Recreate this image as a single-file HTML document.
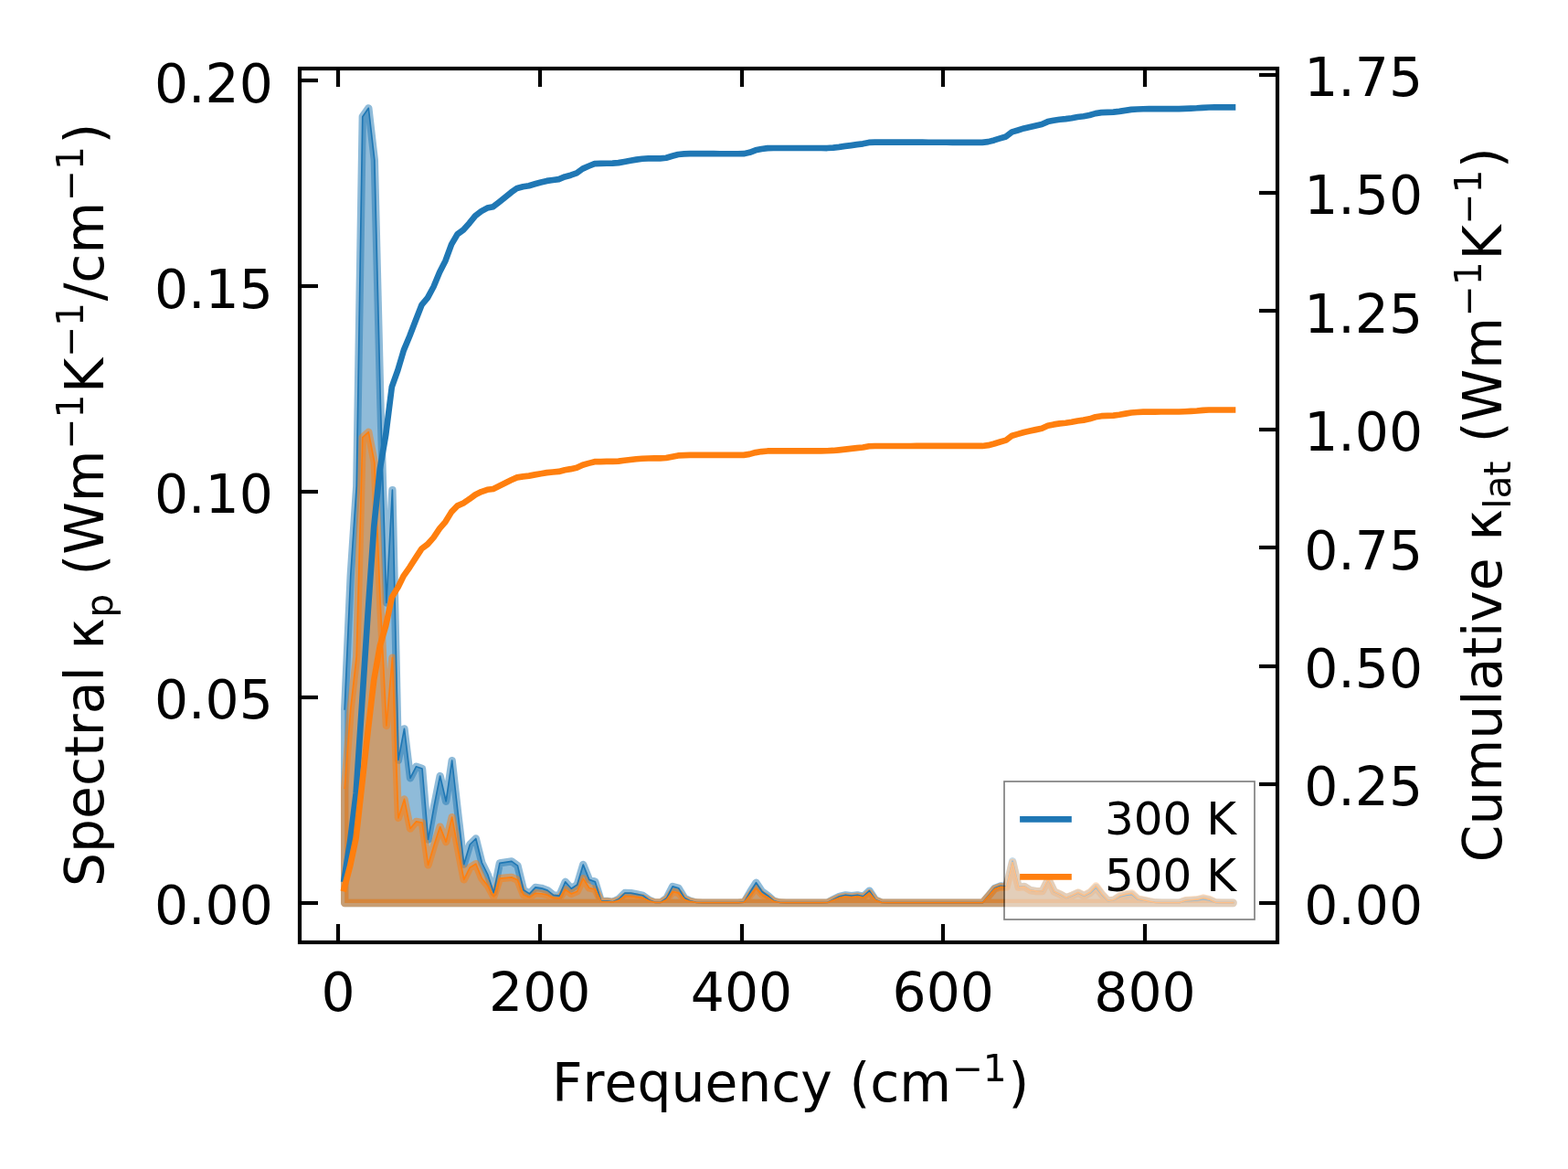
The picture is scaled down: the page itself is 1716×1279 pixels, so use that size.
<!DOCTYPE html>
<html lang="en">
<head>
<meta charset="utf-8">
<title>Spectral and cumulative lattice thermal conductivity</title>
<style>
html,body{margin:0;padding:0;background:#fff}
body{width:1716px;height:1279px;overflow:hidden}
svg{display:block}
text{white-space:pre;font-kerning:none;font-variant-ligatures:none}
</style>
</head>
<body>
<svg xmlns="http://www.w3.org/2000/svg" width="1716" height="1279" viewBox="0 0 1716 1279" font-family="'DejaVu Sans','Liberation Sans',sans-serif" font-size="58.33" fill="#000">
<rect width="1716" height="1279" fill="#fff"/>
<path d="M377.2 988 L377.2 776 L383.73 630 L390.25 532 L396.78 127.7 L403.3 118.3 L409.83 175 L416.36 440 L422.88 659.5 L429.41 536.2 L435.93 831.6 L442.46 797.3 L448.99 851.3 L455.51 838.7 L462.04 841 L468.56 918.5 L475.09 882 L481.62 849 L488.14 876.7 L494.67 832.1 L501.19 890 L507.72 945.7 L514.25 924 L520.77 917.5 L527.3 943.8 L533.82 957 L540.35 976.7 L546.88 944.3 L553.4 943.3 L559.93 942.4 L566.45 947.1 L572.98 973.8 L579.51 977.9 L586.03 970.85 L592.56 971.8 L599.08 974.1 L605.61 979.3 L612.14 980.2 L618.66 964.75 L625.19 972.3 L631.71 968 L638.24 946 L644.77 962.4 L651.29 964.75 L657.82 985.9 L664.34 985.9 L670.87 986.8 L677.4 983.5 L683.92 977 L690.45 977.1 L696.97 978.4 L703.5 979.8 L710.03 984.5 L716.55 987.3 L723.08 987.3 L729.6 982.6 L736.13 969.9 L742.66 971.8 L749.18 982.6 L755.71 985.9 L762.23 987.5 L768.76 987.6 L775.29 987.6 L781.81 987.6 L788.34 987.6 L794.86 987.6 L801.39 987.6 L807.92 987.6 L814.44 987.1 L820.97 976 L827.49 965.7 L834.02 975.5 L840.55 980.2 L847.07 985.9 L853.6 987.5 L860.12 987.6 L866.65 987.6 L873.18 987.6 L879.7 987.6 L886.23 987.6 L892.75 987.6 L899.28 987.6 L905.81 987.5 L912.33 984 L918.86 980.7 L925.38 979.3 L931.91 980.2 L938.44 979.3 L944.96 980.7 L951.49 974.6 L958.01 984.5 L964.54 987.3 L971.07 987.6 L977.59 987.6 L984.12 987.6 L990.64 987.6 L997.17 987.6 L1003.7 987.6 L1010.22 987.6 L1016.75 987.6 L1023.27 987.6 L1029.8 987.6 L1036.33 987.6 L1042.85 987.6 L1049.38 987.6 L1055.9 987.6 L1062.43 987.6 L1068.96 987.6 L1075.48 987.6 L1082.01 979.8 L1088.53 971.8 L1095.06 969.4 L1101.59 969.9 L1108.11 942.2 L1114.64 970.4 L1121.16 969.9 L1127.69 974.1 L1134.22 975.1 L1140.74 975.1 L1147.27 962 L1153.79 975.8 L1160.32 978.7 L1166.85 982.4 L1173.37 979.9 L1179.9 977.1 L1186.42 980.3 L1192.95 977.1 L1199.48 970.9 L1206 979.1 L1212.53 985.7 L1219.05 984.9 L1225.58 981 L1232.11 979.5 L1238.63 978.7 L1245.16 984 L1251.68 985.3 L1258.21 986.5 L1264.74 987.5 L1271.26 987.6 L1277.79 987.6 L1284.31 987.6 L1290.84 987.6 L1297.37 985.7 L1303.89 985.3 L1310.42 984.9 L1316.94 983.6 L1323.47 984.9 L1330 987.3 L1336.52 987.6 L1343.05 987.6 L1349.57 987.6 L1349.57 988 Z" fill="#1f77b4" fill-opacity="0.5" stroke="#1f77b4" stroke-opacity="0.5" stroke-width="8.3333" stroke-linejoin="round"/>
<path d="M377.2 988 L377.2 862.41 L383.73 776 L390.25 717.96 L396.78 478.52 L403.3 472.75 L409.83 506.1 L416.36 662.94 L422.88 794 L429.41 719.6 L435.93 894.91 L442.46 874.42 L448.99 906.46 L455.51 898.86 L462.04 900.13 L468.56 946.32 L475.09 924.43 L481.62 904.57 L488.14 921.07 L494.67 894.16 L501.19 928.85 L507.72 962.34 L514.25 949.18 L520.77 945.17 L527.3 961.04 L533.82 969 L540.35 980.96 L546.88 961.17 L553.4 960.5 L559.93 959.88 L566.45 962.7 L572.98 979.09 L579.51 981.6 L586.03 977.22 L592.56 977.78 L599.08 979.18 L605.61 982.41 L612.14 982.96 L618.66 973.23 L625.19 977.94 L631.71 975.19 L638.24 961.17 L644.77 971.53 L651.29 972.98 L657.82 986.51 L664.34 986.5 L670.87 987.08 L677.4 984.94 L683.92 980.69 L690.45 980.73 L696.97 981.55 L703.5 982.45 L710.03 985.55 L716.55 987.4 L723.08 987.4 L729.6 984.24 L736.13 975.66 L742.66 976.89 L749.18 984.2 L755.71 986.44 L762.23 987.53 L768.76 987.6 L775.29 987.6 L781.81 987.6 L788.34 987.6 L794.86 987.6 L801.39 987.6 L807.92 987.6 L814.44 987.24 L820.97 979.25 L827.49 971.75 L834.02 978.79 L840.55 982.18 L847.07 986.35 L853.6 987.53 L860.12 987.6 L866.65 987.6 L873.18 987.6 L879.7 987.6 L886.23 987.6 L892.75 987.6 L899.28 987.6 L905.81 987.52 L912.33 984.78 L918.86 982.17 L925.38 981.02 L931.91 981.7 L938.44 980.94 L944.96 982.03 L951.49 977.03 L958.01 985.06 L964.54 987.35 L971.07 987.6 L977.59 987.6 L984.12 987.6 L990.64 987.6 L997.17 987.6 L1003.7 987.6 L1010.22 987.6 L1016.75 987.6 L1023.27 987.6 L1029.8 987.6 L1036.33 987.6 L1042.85 987.6 L1049.38 987.6 L1055.9 987.6 L1062.43 987.6 L1068.96 987.6 L1075.48 987.6 L1082.01 980.27 L1088.53 972.63 L1095.06 970.23 L1101.59 970.57 L1108.11 943.57 L1114.64 970.79 L1121.16 970.16 L1127.69 974.19 L1134.22 975.08 L1140.74 974.98 L1147.27 961.55 L1153.79 975.49 L1160.32 978.39 L1166.85 982.18 L1173.37 979.5 L1179.9 976.46 L1186.42 979.79 L1192.95 976.27 L1199.48 969.43 L1206 978.27 L1212.53 985.5 L1219.05 984.59 L1225.58 980.17 L1232.11 978.4 L1238.63 977.4 L1245.16 983.44 L1251.68 984.92 L1258.21 986.31 L1264.74 987.48 L1271.26 987.6 L1277.79 987.6 L1284.31 987.6 L1290.84 987.6 L1297.37 985.24 L1303.89 984.72 L1310.42 984.19 L1316.94 982.5 L1323.47 984.12 L1330 987.21 L1336.52 987.6 L1343.05 987.6 L1349.57 987.6 L1349.57 988 Z" fill="#ff7f0e" fill-opacity="0.5" stroke="#ff7f0e" stroke-opacity="0.5" stroke-width="8.3333" stroke-linejoin="round"/>
<g stroke="#000" stroke-width="4.17">
<path d="M370 1031 v-20 M370 75 v20"/>
<path d="M591 1031 v-20 M591 75 v20"/>
<path d="M812 1031 v-20 M812 75 v20"/>
<path d="M1032 1031 v-20 M1032 75 v20"/>
<path d="M1253 1031 v-20 M1253 75 v20"/>
<path d="M328 988 h20"/>
<path d="M328 763 h20"/>
<path d="M328 538 h20"/>
<path d="M328 313 h20"/>
<path d="M328 88 h20"/>
<path d="M1398 988 h-20"/>
<path d="M1398 858 h-20"/>
<path d="M1398 729 h-20"/>
<path d="M1398 599 h-20"/>
<path d="M1398 470 h-20"/>
<path d="M1398 340 h-20"/>
<path d="M1398 211 h-20"/>
<path d="M1398 82 h-20"/>
</g>
<g text-anchor="middle">
<text x="370" y="1106">0</text>
<text x="590.75" y="1106">200</text>
<text x="811.5" y="1106">400</text>
<text x="1032.25" y="1106">600</text>
<text x="1253" y="1106">800</text>
</g>
<g text-anchor="end">
<text x="298.83" y="1011">0.00</text>
<text x="298.83" y="786">0.05</text>
<text x="298.83" y="561">0.10</text>
<text x="298.83" y="337">0.15</text>
<text x="298.83" y="112">0.20</text>
</g>
<g text-anchor="start">
<text x="1427.17" y="1011">0.00</text>
<text x="1427.17" y="881">0.25</text>
<text x="1427.17" y="752">0.50</text>
<text x="1427.17" y="623">0.75</text>
<text x="1427.17" y="493">1.00</text>
<text x="1427.17" y="364">1.25</text>
<text x="1427.17" y="234">1.50</text>
<text x="1427.17" y="105">1.75</text>
</g>
<text x="604" y="1205.2">Frequency (cm<tspan dx="0.6" dy="-22.2" font-size="40.83">−1</tspan><tspan dx="1.6" dy="22.2">)</tspan></text>
<text transform="translate(112.5 970) rotate(-90)">Spectral κ<tspan dx="0.6" dy="10.5" font-size="40.83">p</tspan><tspan dx="1.6" dy="-10.5"> (Wm<tspan dx="0.6" dy="-21.2" font-size="40.83">−1</tspan><tspan dx="1.6" dy="21.2">K<tspan dx="0.6" dy="-21.2" font-size="40.83">−1</tspan><tspan dx="1.6" dy="21.2">/cm<tspan dx="0.6" dy="-21.2" font-size="40.83">−1</tspan><tspan dx="2.5" dy="21.2">)</tspan></tspan></tspan></tspan></text>
<text transform="translate(1643.25 943.2) rotate(-90)">Cumulative κ<tspan dx="0.6" dy="9.5" font-size="40.83">lat</tspan><tspan dx="1.6" dy="-9.5"> (Wm<tspan dx="0.6" dy="-22.2" font-size="40.83">−1</tspan><tspan dx="1.6" dy="22.2">K<tspan dx="0.6" dy="-22.2" font-size="40.83">−1</tspan><tspan dx="1.6" dy="22.2">)</tspan></tspan></tspan></text>
<path d="M377.2 776 L383.73 630 L390.25 532 L396.78 127.7 L403.3 118.3 L409.83 175 L416.36 440 L422.88 659.5 L429.41 536.2 L435.93 831.6 L442.46 797.3 L448.99 851.3 L455.51 838.7 L462.04 841 L468.56 918.5 L475.09 882 L481.62 849 L488.14 876.7 L494.67 832.1 L501.19 890 L507.72 945.7 L514.25 924 L520.77 917.5 L527.3 943.8 L533.82 957 L540.35 976.7 L546.88 944.3 L553.4 943.3 L559.93 942.4 L566.45 947.1 L572.98 973.8 L579.51 977.9 L586.03 970.85 L592.56 971.8 L599.08 974.1 L605.61 979.3 L612.14 980.2 L618.66 964.75 L625.19 972.3 L631.71 968 L638.24 946 L644.77 962.4 L651.29 964.75 L657.82 985.9 L664.34 985.9 L670.87 986.8 L677.4 983.5 L683.92 977 L690.45 977.1 L696.97 978.4 L703.5 979.8 L710.03 984.5 L716.55 987.3 L723.08 987.3 L729.6 982.6 L736.13 969.9 L742.66 971.8 L749.18 982.6 L755.71 985.9 L762.23 987.5 L768.76 987.6 L775.29 987.6 L781.81 987.6 L788.34 987.6 L794.86 987.6 L801.39 987.6 L807.92 987.6 L814.44 987.1 L820.97 976 L827.49 965.7 L834.02 975.5 L840.55 980.2 L847.07 985.9 L853.6 987.5 L860.12 987.6 L866.65 987.6 L873.18 987.6 L879.7 987.6 L886.23 987.6 L892.75 987.6 L899.28 987.6 L905.81 987.5 L912.33 984 L918.86 980.7 L925.38 979.3 L931.91 980.2 L938.44 979.3 L944.96 980.7 L951.49 974.6 L958.01 984.5 L964.54 987.3 L971.07 987.6 L977.59 987.6 L984.12 987.6 L990.64 987.6 L997.17 987.6 L1003.7 987.6 L1010.22 987.6 L1016.75 987.6 L1023.27 987.6 L1029.8 987.6 L1036.33 987.6 L1042.85 987.6 L1049.38 987.6 L1055.9 987.6 L1062.43 987.6 L1068.96 987.6 L1075.48 987.6 L1082.01 979.8 L1088.53 971.8 L1095.06 969.4 L1101.59 969.9 L1108.11 942.2 L1114.64 970.4 L1121.16 969.9 L1127.69 974.1 L1134.22 975.1 L1140.74 975.1 L1147.27 962 L1153.79 975.8 L1160.32 978.7 L1166.85 982.4 L1173.37 979.9 L1179.9 977.1 L1186.42 980.3 L1192.95 977.1 L1199.48 970.9 L1206 979.1 L1212.53 985.7 L1219.05 984.9 L1225.58 981 L1232.11 979.5 L1238.63 978.7 L1245.16 984 L1251.68 985.3 L1258.21 986.5 L1264.74 987.5 L1271.26 987.6 L1277.79 987.6 L1284.31 987.6 L1290.84 987.6 L1297.37 985.7 L1303.89 985.3 L1310.42 984.9 L1316.94 983.6 L1323.47 984.9 L1330 987.3 L1336.52 987.6 L1343.05 987.6 L1349.57 987.6" fill="none" stroke="#1f77b4" stroke-width="1.67" stroke-linejoin="round" stroke-linecap="square"/>
<path d="M377.2 862.41 L383.73 776 L390.25 717.96 L396.78 478.52 L403.3 472.75 L409.83 506.1 L416.36 662.94 L422.88 794 L429.41 719.6 L435.93 894.91 L442.46 874.42 L448.99 906.46 L455.51 898.86 L462.04 900.13 L468.56 946.32 L475.09 924.43 L481.62 904.57 L488.14 921.07 L494.67 894.16 L501.19 928.85 L507.72 962.34 L514.25 949.18 L520.77 945.17 L527.3 961.04 L533.82 969 L540.35 980.96 L546.88 961.17 L553.4 960.5 L559.93 959.88 L566.45 962.7 L572.98 979.09 L579.51 981.6 L586.03 977.22 L592.56 977.78 L599.08 979.18 L605.61 982.41 L612.14 982.96 L618.66 973.23 L625.19 977.94 L631.71 975.19 L638.24 961.17 L644.77 971.53 L651.29 972.98 L657.82 986.51 L664.34 986.5 L670.87 987.08 L677.4 984.94 L683.92 980.69 L690.45 980.73 L696.97 981.55 L703.5 982.45 L710.03 985.55 L716.55 987.4 L723.08 987.4 L729.6 984.24 L736.13 975.66 L742.66 976.89 L749.18 984.2 L755.71 986.44 L762.23 987.53 L768.76 987.6 L775.29 987.6 L781.81 987.6 L788.34 987.6 L794.86 987.6 L801.39 987.6 L807.92 987.6 L814.44 987.24 L820.97 979.25 L827.49 971.75 L834.02 978.79 L840.55 982.18 L847.07 986.35 L853.6 987.53 L860.12 987.6 L866.65 987.6 L873.18 987.6 L879.7 987.6 L886.23 987.6 L892.75 987.6 L899.28 987.6 L905.81 987.52 L912.33 984.78 L918.86 982.17 L925.38 981.02 L931.91 981.7 L938.44 980.94 L944.96 982.03 L951.49 977.03 L958.01 985.06 L964.54 987.35 L971.07 987.6 L977.59 987.6 L984.12 987.6 L990.64 987.6 L997.17 987.6 L1003.7 987.6 L1010.22 987.6 L1016.75 987.6 L1023.27 987.6 L1029.8 987.6 L1036.33 987.6 L1042.85 987.6 L1049.38 987.6 L1055.9 987.6 L1062.43 987.6 L1068.96 987.6 L1075.48 987.6 L1082.01 980.27 L1088.53 972.63 L1095.06 970.23 L1101.59 970.57 L1108.11 943.57 L1114.64 970.79 L1121.16 970.16 L1127.69 974.19 L1134.22 975.08 L1140.74 974.98 L1147.27 961.55 L1153.79 975.49 L1160.32 978.39 L1166.85 982.18 L1173.37 979.5 L1179.9 976.46 L1186.42 979.79 L1192.95 976.27 L1199.48 969.43 L1206 978.27 L1212.53 985.5 L1219.05 984.59 L1225.58 980.17 L1232.11 978.4 L1238.63 977.4 L1245.16 983.44 L1251.68 984.92 L1258.21 986.31 L1264.74 987.48 L1271.26 987.6 L1277.79 987.6 L1284.31 987.6 L1290.84 987.6 L1297.37 985.24 L1303.89 984.72 L1310.42 984.19 L1316.94 982.5 L1323.47 984.12 L1330 987.21 L1336.52 987.6 L1343.05 987.6 L1349.57 987.6" fill="none" stroke="#ff7f0e" stroke-width="1.67" stroke-linejoin="round" stroke-linecap="square"/>
<path d="M376.6 961.83 L383.13 920.54 L389.65 868.05 L396.18 769.37 L402.7 669.63 L409.23 576.36 L415.76 513.36 L422.28 475.44 L428.81 423.43 L435.33 405.17 L441.86 383.11 L448.39 367.52 L454.91 350.5 L461.44 333.74 L467.96 325.83 L474.49 313.75 L481.02 297.91 L487.54 285.22 L494.07 267.44 L500.59 256.28 L507.12 251.48 L513.65 244.2 L520.17 236.18 L526.7 231.16 L533.22 227.58 L539.75 226.18 L546.28 221.09 L552.8 215.87 L559.33 210.56 L565.85 205.9 L572.38 204.31 L578.91 203.19 L585.43 201.26 L591.96 199.44 L598.48 197.89 L605.01 196.93 L611.54 196.07 L618.06 193.44 L624.59 191.68 L631.11 189.43 L637.64 184.66 L644.17 181.77 L650.69 179.14 L657.22 178.94 L663.74 178.73 L670.27 178.62 L676.8 178.14 L683.32 176.92 L689.85 175.7 L696.37 174.64 L702.9 173.74 L709.43 173.39 L715.95 173.36 L722.48 173.33 L729 172.77 L735.53 170.75 L742.06 168.95 L748.58 168.38 L755.11 168.19 L761.63 168.19 L768.16 168.19 L774.69 168.2 L781.21 168.2 L787.74 168.21 L794.26 168.21 L800.79 168.22 L807.32 168.22 L813.84 168.17 L820.37 166.85 L826.89 164.35 L833.42 162.98 L839.95 162.15 L846.47 161.96 L853 161.96 L859.52 161.97 L866.05 161.98 L872.58 161.99 L879.1 162.01 L885.63 162.02 L892.15 162.03 L898.68 162.04 L905.21 162.04 L911.73 161.64 L918.26 160.86 L924.78 159.92 L931.31 159.09 L937.84 158.15 L944.36 157.37 L950.89 155.9 L957.41 155.57 L963.94 155.55 L970.47 155.57 L976.99 155.6 L983.52 155.62 L990.04 155.64 L996.57 155.66 L1003.1 155.68 L1009.62 155.7 L1016.15 155.72 L1022.67 155.74 L1029.2 155.76 L1035.73 155.78 L1042.25 155.8 L1048.78 155.83 L1055.3 155.85 L1061.83 155.87 L1068.36 155.89 L1074.88 155.91 L1081.41 155.11 L1087.93 153.4 L1094.46 151.41 L1100.99 149.48 L1107.51 144.39 L1114.04 142.46 L1120.56 140.43 L1127.09 138.89 L1133.62 137.46 L1140.14 136.03 L1146.67 133.1 L1153.19 131.75 L1159.72 130.73 L1166.25 130.13 L1172.77 129.25 L1179.3 128.05 L1185.82 127.21 L1192.35 126.01 L1198.88 124.1 L1205.4 123.13 L1211.93 122.91 L1218.45 122.6 L1224.98 121.84 L1231.51 120.91 L1238.03 119.89 L1244.56 119.48 L1251.08 119.21 L1257.61 119.08 L1264.14 119.07 L1270.66 119.07 L1277.19 119.06 L1283.71 119.06 L1290.24 119.06 L1296.77 118.84 L1303.29 118.57 L1309.82 118.26 L1316.34 117.8 L1322.87 117.49 L1329.4 117.45 L1335.92 117.45 L1342.45 117.45 L1348.97 117.45" fill="none" stroke="#1f77b4" stroke-width="6.67" stroke-linejoin="round" stroke-linecap="square"/>
<path d="M376.6 972.07 L383.13 947.72 L389.65 916.72 L396.18 858.32 L402.7 799.26 L409.23 744.02 L415.76 706.73 L422.28 684.44 L428.81 653.63 L435.33 642.89 L441.86 629.84 L448.39 620.55 L454.91 610.39 L461.44 600.38 L467.96 595.49 L474.49 588.08 L481.02 578.43 L487.54 570.81 L494.07 560.12 L500.59 553.39 L507.12 550.5 L513.65 546.1 L520.17 541.25 L526.7 538.07 L533.22 535.82 L539.75 534.93 L546.28 531.77 L552.8 528.57 L559.33 525.33 L565.85 522.41 L572.38 521.37 L578.91 520.62 L585.43 519.37 L591.96 518.18 L598.48 517.15 L605.01 516.49 L611.54 515.91 L618.06 514.26 L624.59 513.16 L631.11 511.73 L637.64 508.71 L644.17 506.87 L650.69 505.19 L657.22 505.07 L663.74 504.94 L670.27 504.88 L676.8 504.57 L683.32 503.78 L689.85 502.99 L696.37 502.3 L702.9 501.71 L709.43 501.47 L715.95 501.45 L722.48 501.42 L729 501.04 L735.53 499.67 L742.06 498.44 L748.58 498.05 L755.11 497.92 L761.63 497.91 L768.16 497.91 L774.69 497.91 L781.21 497.9 L787.74 497.9 L794.26 497.9 L800.79 497.9 L807.32 497.9 L813.84 497.86 L820.37 496.9 L826.89 495.08 L833.42 494.07 L839.95 493.45 L846.47 493.31 L853 493.3 L859.52 493.3 L866.05 493.29 L872.58 493.29 L879.1 493.29 L885.63 493.29 L892.15 493.29 L898.68 493.29 L905.21 493.28 L911.73 492.95 L918.26 492.33 L924.78 491.58 L931.31 490.9 L937.84 490.14 L944.36 489.5 L950.89 488.28 L957.41 487.99 L963.94 487.96 L970.47 487.96 L976.99 487.96 L983.52 487.96 L990.04 487.96 L996.57 487.96 L1003.1 487.95 L1009.62 487.95 L1016.15 487.95 L1022.67 487.95 L1029.2 487.95 L1035.73 487.95 L1042.25 487.95 L1048.78 487.94 L1055.3 487.94 L1061.83 487.94 L1068.36 487.94 L1074.88 487.94 L1081.41 487.15 L1087.93 485.49 L1094.46 483.55 L1100.99 481.66 L1107.51 476.7 L1114.04 474.86 L1120.56 472.95 L1127.09 471.49 L1133.62 470.14 L1140.14 468.78 L1146.67 465.79 L1153.19 464.4 L1159.72 463.35 L1166.25 462.72 L1172.77 461.79 L1179.3 460.52 L1185.82 459.62 L1192.35 458.32 L1198.88 456.24 L1205.4 455.17 L1211.93 454.92 L1218.45 454.57 L1224.98 453.72 L1231.51 452.66 L1238.03 451.49 L1244.56 451.01 L1251.08 450.7 L1257.61 450.55 L1264.14 450.54 L1270.66 450.53 L1277.19 450.53 L1283.71 450.53 L1290.24 450.52 L1296.77 450.25 L1303.29 449.92 L1309.82 449.52 L1316.34 448.94 L1322.87 448.53 L1329.4 448.49 L1335.92 448.48 L1342.45 448.48 L1348.97 448.48" fill="none" stroke="#ff7f0e" stroke-width="6.67" stroke-linejoin="round" stroke-linecap="square"/>
<rect x="328" y="75" width="1070" height="956" fill="none" stroke="#000" stroke-width="4.17"/>
<rect x="1099" y="855" width="274" height="151" fill="#fff" stroke="#000" stroke-width="1.6667" opacity="0.5"/>
<path d="M1119.45 896.4 H1169.45" stroke="#1f77b4" stroke-width="6.67" stroke-linecap="square"/>
<path d="M1119.45 959.4 H1169.45" stroke="#ff7f0e" stroke-width="6.67" stroke-linecap="square"/>
<g font-size="50">
<text x="1208.88" y="913.2">300 K</text>
<text x="1208.88" y="974.6">500 K</text>
</g>
</svg>
</body>
</html>
